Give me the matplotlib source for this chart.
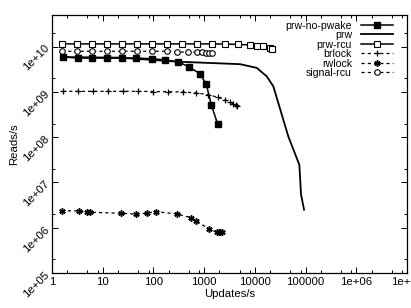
import matplotlib
matplotlib.use("Agg")
import matplotlib.pyplot as plt
from matplotlib.ticker import LogLocator, FixedLocator, FixedFormatter, NullFormatter

plt.rcParams['font.family'] = ['Liberation Sans', 'DejaVu Sans']
plt.rcParams['font.size'] = 8.2

# values (updates/s, reads/s)
nopwake_x = [1.67, 3.2, 6.2, 12, 23.7, 46, 92, 172, 310, 510, 820, 1100, 1390, 1850]
nopwake_y = [5.9e9, 5.6e9, 5.6e9, 5.6e9, 5.6e9, 5.6e9, 5.4e9, 5.1e9, 4.6e9, 3.56e9, 2.53e9, 1.5e9, 5.1e8, 1.95e8]

prw_x = [1.57, 22, 305, 5100, 10900, 17200, 23200, 45700, 75500, 81500, 93500]
prw_y = [5.9e9, 5.7e9, 4.65e9, 4.1e9, 3.4e9, 2.2e9, 1.32e9, 1.04e8, 2.45e7, 5.4e6, 2.5e6]

rcu_x = [1.57, 3.1, 6.2, 12.2, 24, 48, 94, 185, 361, 714, 1410, 2580, 4730, 8000,
         11200, 14700, 20000, 21500]
rcu_y = [1.15e10, 1.15e10, 1.15e10, 1.15e10, 1.15e10, 1.15e10, 1.15e10, 1.15e10, 1.15e10,
         1.15e10, 1.15e10, 1.14e10, 1.12e10, 1.09e10, 1.05e10, 1.02e10, 9.3e9, 8.9e9]

brlock_x = [1.65, 3.26, 6.4, 12.7, 25, 49.6, 98, 194, 383, 690, 1200, 1870, 2600, 3240,
            3700, 4200, 4500]
brlock_y = [1.03e9, 1.03e9, 1.03e9, 1.03e9, 1.03e9, 1.03e9, 1.02e9, 1.01e9, 1.0e9, 9.5e8,
            8.7e8, 7.6e8, 6.7e8, 6.0e8, 5.5e8, 5.2e8, 5.0e8]

rwlock_x = [1.55, 3.45, 4.8, 5.6, 22.6, 46, 74, 111, 288, 545, 690, 1260, 1800, 1950,
            2100, 2250]
rwlock_y = [2.36e6, 2.36e6, 2.2e6, 2.2e6, 2.09e6, 2.0e6, 2.09e6, 2.27e6, 2.02e6, 1.67e6,
            1.41e6, 9.4e5, 7.9e5, 8.0e5, 8.1e5, 8.2e5]

signal_x = [1.57, 3.1, 6.2, 12.2, 24, 48, 94, 185, 288, 488, 735, 921, 1070, 1250, 1410]
signal_y = [7.9e9, 7.9e9, 7.9e9, 7.9e9, 7.9e9, 7.9e9, 7.9e9, 7.9e9, 7.6e9, 7.6e9, 7.6e9,
            7.5e9, 7.4e9, 7.3e9, 7.2e9]

x_ticks = [1, 10, 100, 1000, 10000, 100000, 1e6, 1e7]
x_labels = ["1", "10", "100", "1000", "10000", "100000", "1e+06", "1e+07"]
y_ticks = [1e5, 1e6, 1e7, 1e8, 1e9, 1e10]
y_labels = ["1e+05", "1e+06", "1e+07", "1e+08", "1e+09", "1e+10"]


def main():
    fig = plt.figure(figsize=(4.11, 3.08), dpi=100)
    ax = fig.add_axes([0.1265, 0.1136, 0.8637, 0.8377])

    ax.plot(nopwake_x, nopwake_y, '-', color='k', lw=1.1, marker='s', ms=4.2,
            mfc='k', label='prw-no-pwake')
    ax.plot(prw_x, prw_y, '-', color='k', lw=1.3, label='prw')
    ax.plot(rcu_x, rcu_y, '-', color='k', lw=1.1, marker='s', ms=4.0,
            mfc='white', mew=0.8, label='prw-rcu')
    ax.plot(brlock_x, brlock_y, '--', color='k', lw=0.9, dashes=(2.5, 2.5),
            marker='+', ms=4.5, mew=0.9, label='brlock')
    ax.plot(rwlock_x, rwlock_y, '--', color='k', lw=0.9, dashes=(2.5, 2.5),
            marker=(6, 2, 0), ms=4.5, mew=1.1, label='rwlock')
    ax.plot(signal_x, signal_y, '--', color='k', lw=0.9, dashes=(2.5, 2.5),
            marker='o', ms=4.0, mfc='white', mew=0.8, label='signal-rcu')

    ax.set_xscale('log')
    ax.set_yscale('log')
    ax.set_xlim(1, 1e7)
    ax.set_ylim(1e5, 5e10)

    ax.xaxis.set_major_locator(FixedLocator(x_ticks))
    ax.xaxis.set_major_formatter(FixedFormatter(x_labels))
    ax.xaxis.set_minor_locator(LogLocator(base=10, subs=(2, 5, 8)))
    ax.xaxis.set_minor_formatter(NullFormatter())
    ax.yaxis.set_major_locator(FixedLocator(y_ticks))
    ax.yaxis.set_major_formatter(FixedFormatter(y_labels))
    ax.yaxis.set_minor_locator(LogLocator(base=10, subs=(2,)))
    ax.yaxis.set_minor_formatter(NullFormatter())

    ax.tick_params(which='both', direction='in', top=True, right=True, width=0.7)
    ax.tick_params(which='major', length=4, pad=3)
    ax.tick_params(which='minor', length=2.5)
    for lab in ax.get_yticklabels():
        lab.set_rotation(45)
        lab.set_rotation_mode('anchor')
        lab.set_ha('right')
        lab.set_va('center')
    for sp in ax.spines.values():
        sp.set_linewidth(0.9)

    ax.set_xlabel('Updates/s', labelpad=1)
    ax.set_ylabel('Reads/s', labelpad=2)

    leg = ax.legend(loc='upper right', bbox_to_anchor=(0.961, 0.978), fontsize=7.6,
                    frameon=False, markerfirst=False,
                    handlelength=3.0, handletextpad=0.9, labelspacing=-0.05,
                    borderaxespad=0.0, borderpad=0.0)
    for col in leg._legend_handle_box.get_children():
        col.align = 'right'

    fig.savefig('out.png', dpi=100)


if __name__ == "__main__":
    main()
